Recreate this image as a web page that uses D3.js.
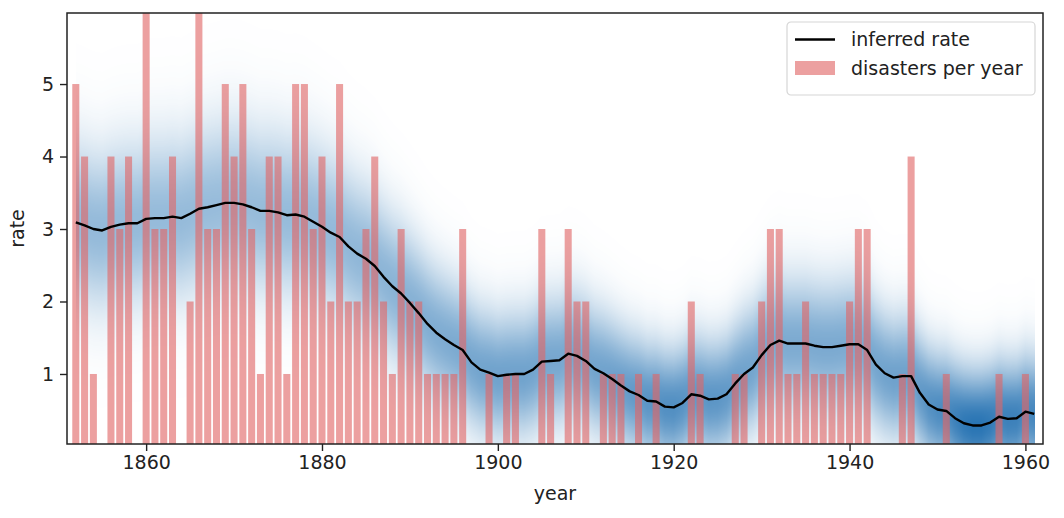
<!DOCTYPE html>
<meta charset="utf-8">
<style>
body { margin: 0; background: #fff; }
svg text { font-family: "DejaVu Sans", sans-serif; }
.axis path { display: none; }
.axis line { stroke: #222; stroke-width: 1.4; }
.axis text { font-size: 19px; fill: #222; }
</style>
<body>
<script src="https://d3js.org/d3.v7.min.js"></script>
<script>

// disasters per year, 1851 .. 1961
const firstYear = 1851;
const disasters = [
  0, 5, 4, 1, 0, 4, 3, 4, 0, 6,   // 1851-1860
  3, 3, 4, 0, 2, 6, 3, 3, 5, 4,   // 1861-1870
  5, 3, 1, 4, 4, 1, 5, 5, 3, 4,   // 1871-1880
  2, 5, 2, 2, 3, 4, 2, 1, 3, 2,   // 1881-1890
  2, 1, 1, 1, 1, 3, 0, 0, 1, 0,   // 1891-1900
  1, 1, 0, 0, 3, 1, 0, 3, 2, 2,   // 1901-1910
  0, 1, 1, 1, 0, 1, 0, 1, 0, 0,   // 1911-1920
  0, 2, 1, 0, 0, 0, 1, 1, 0, 2,   // 1921-1930
  3, 3, 1, 1, 2, 1, 1, 1, 1, 2,   // 1931-1940
  3, 3, 0, 0, 0, 1, 4, 0, 0, 0,   // 1941-1950
  1, 0, 0, 0, 0, 0, 1, 0, 0, 1,   // 1951-1960
  0                               // 1961
];

// inferred rate (posterior mean), 1852 .. 1961
const rateStart = 1852;
const rate = [
  3.09, 3.05, 3.00, 2.98, 3.03, 3.06, 3.08, 3.08, 3.14,             // 1852-1860
  3.15, 3.15, 3.17, 3.15, 3.21, 3.28, 3.30, 3.33, 3.36, 3.36,       // 1861-1870
  3.34, 3.30, 3.25, 3.25, 3.23, 3.19, 3.20, 3.17, 3.10, 3.03,       // 1871-1880
  2.95, 2.89, 2.76, 2.66, 2.59, 2.49, 2.34, 2.21, 2.11, 1.98,       // 1881-1890
  1.84, 1.69, 1.57, 1.48, 1.40, 1.33, 1.16, 1.06, 1.02, 0.97,       // 1891-1900
  0.99, 1.00, 1.00, 1.06, 1.17, 1.18, 1.19, 1.28, 1.25, 1.18,       // 1901-1910
  1.07, 1.01, 0.93, 0.84, 0.76, 0.71, 0.63, 0.62, 0.55, 0.54,       // 1911-1920
  0.60, 0.72, 0.70, 0.65, 0.66, 0.72, 0.87, 1.00, 1.09, 1.26,       // 1921-1930
  1.40, 1.46, 1.42, 1.42, 1.42, 1.39, 1.37, 1.37, 1.39, 1.41,       // 1931-1940
  1.41, 1.33, 1.13, 1.01, 0.95, 0.97, 0.97, 0.74, 0.58, 0.51,       // 1941-1950
  0.49, 0.39, 0.32, 0.29, 0.29, 0.33, 0.41, 0.38, 0.39, 0.48,       // 1951-1960
  0.45                                                              // 1961
];

const xTicks = [1860, 1880, 1900, 1920, 1940, 1960];
const yTicks = [1, 2, 3, 4, 5];

const margin = {top: 13, right: 21, bottom: 74, left: 67},
    width = 1064 - margin.left - margin.right,
    height = 518 - margin.top - margin.bottom;

const x = d3.scaleLinear().domain([1851, 1962]).range([0, width]);
const y = d3.scaleLinear().domain([0.034, 5.98]).range([height, 0]);

const svg = d3.select("body").append("svg")
    .attr("width", 1064)
    .attr("height", 518);

svg.append("defs").append("clipPath")
    .attr("id", "clip")
  .append("rect")
    .attr("width", width)
    .attr("height", height);

const g = svg.append("g")
    .attr("transform", "translate(" + margin.left + "," + margin.top + ")");

// ---- posterior density of the rate, painted on a canvas ----
function erf(z) {
  const t = 1 / (1 + 0.3275911 * Math.abs(z));
  const p = t * (0.254829592 + t * (-0.284496736 + t * (1.421413741 + t * (-1.453152027 + t * 1.061405429))));
  const r = 1 - p * Math.exp(-z * z);
  return z >= 0 ? r : -r;
}
const spread = m => 0.5 + 0.08 * m;
const peak = m => { const s = spread(m); return 1 / (s * 0.5 * (1 + erf(m / s / Math.SQRT2))); };
const dmax = d3.max(rate, peak);
const densityColor = d3.rgb("#1f6eb0");

const canvas = document.createElement("canvas");
canvas.width = width;
canvas.height = height;
const ctx = canvas.getContext("2d");
const img = ctx.createImageData(width, height);
const rateAt = d3.scaleLinear()
    .domain(rate.map((d, i) => rateStart + i))
    .range(rate)
    .clamp(true);
const yrEnd = rateStart + rate.length - 1 + 0.12;
for (let px = 0; px < width; px++) {
  const t = x.invert(px + 0.5);
  if (t < rateStart || t > yrEnd) continue;
  const m = rateAt(t), s = spread(m);
  const norm = peak(m) / dmax;
  for (let py = 0; py < height; py++) {
    const r = y.invert(py + 0.5);
    const z = (r - m) / s;
    const v = norm * Math.exp(-0.5 * z * z);
    const k = (py * width + px) * 4;
    img.data[k] = densityColor.r; img.data[k + 1] = densityColor.g; img.data[k + 2] = densityColor.b;
    img.data[k + 3] = Math.round(255 * Math.min(1, 0.95 * v));
  }
}
ctx.putImageData(img, 0, 0);

g.append("image")
    .attr("width", width)
    .attr("height", height)
    .attr("preserveAspectRatio", "none")
    .attr("href", canvas.toDataURL());

// ---- bars ----
const barColor = "rgb(224,102,102)";
g.append("g")
    .attr("clip-path", "url(#clip)")
  .selectAll("rect")
  .data(disasters.map((d, i) => ({year: firstYear + i, n: d})).filter(d => d.n > 0))
  .enter().append("rect")
    .attr("x", d => x(d.year - 0.4))
    .attr("width", d => x(d.year + 0.4) - x(d.year - 0.4))
    .attr("y", d => y(d.n))
    .attr("height", d => y(0) - y(d.n))
    .attr("fill", barColor)
    .attr("fill-opacity", 0.62);

// ---- inferred rate line ----
const line = d3.line()
    .x((d, i) => x(rateStart + i))
    .y(d => y(d));

g.append("path")
    .datum(rate)
    .attr("fill", "none")
    .attr("stroke", "#000")
    .attr("stroke-width", 2.4)
    .attr("stroke-linejoin", "round")
    .attr("d", line);

// ---- axes ----
g.append("g")
    .attr("class", "axis")
    .attr("transform", "translate(0," + height + ")")
    .call(d3.axisBottom(x).tickValues(xTicks).tickFormat(d3.format("d")).tickSize(7).tickPadding(5));

g.append("g")
    .attr("class", "axis")
    .call(d3.axisLeft(y).tickValues(yTicks).tickFormat(d3.format("d")).tickSize(7).tickPadding(6));

g.append("rect")
    .attr("width", width)
    .attr("height", height)
    .attr("fill", "none")
    .attr("stroke", "#222")
    .attr("stroke-width", 1.5);

g.append("text")
    .attr("x", width / 2)
    .attr("y", height + 56)
    .attr("text-anchor", "middle")
    .attr("font-size", "19px")
    .attr("fill", "#222")
    .text("year");

g.append("text")
    .attr("transform", "translate(-43," + (height / 2) + ") rotate(-90)")
    .attr("text-anchor", "middle")
    .attr("font-size", "19px")
    .attr("fill", "#222")
    .text("rate");

// ---- legend ----
const legend = svg.append("g")
    .attr("transform", "translate(787,22)");

legend.append("rect")
    .attr("width", 248)
    .attr("height", 73)
    .attr("rx", 4)
    .attr("fill", "#fff")
    .attr("fill-opacity", 0.8)
    .attr("stroke", "#d6d6d6")
    .attr("stroke-width", 1.2);

legend.append("line")
    .attr("x1", 8).attr("x2", 48)
    .attr("y1", 17.5).attr("y2", 17.5)
    .attr("stroke", "#000")
    .attr("stroke-width", 2.4);

legend.append("rect")
    .attr("x", 8).attr("y", 39)
    .attr("width", 40).attr("height", 14)
    .attr("fill", barColor)
    .attr("fill-opacity", 0.62);

legend.selectAll("text.lab")
    .data(["inferred rate", "disasters per year"])
  .enter().append("text")
    .attr("class", "lab")
    .attr("x", 64)
    .attr("y", (d, i) => 17.5 + i * 28.5)
    .attr("dy", "0.35em")
    .attr("font-size", "19px")
    .attr("fill", "#222")
    .text(d => d);
</script>
